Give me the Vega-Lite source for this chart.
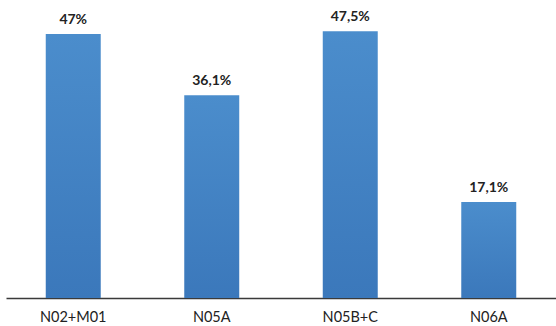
{
  "$schema": "https://vega.github.io/schema/vega-lite/v6.json",
  "width": 550,
  "height": 298,
  "autosize": {"type": "none"},
  "padding": {"left": 6, "top": 0, "right": 0, "bottom": 28},
  "background": "white",
  "config": {"view": {"stroke": null}},
  "data": {
    "values": [
      {"cat": "N02+M01", "value": 47.0, "label": "47%"},
      {"cat": "N05A", "value": 36.1, "label": "36,1%"},
      {"cat": "N05B+C", "value": 47.5, "label": "47,5%"},
      {"cat": "N06A", "value": 17.1, "label": "17,1%"}
    ]
  },
  "encoding": {
    "x": {
      "field": "cat",
      "type": "nominal",
      "sort": null,
      "scale": {"paddingInner": 0.603, "paddingOuter": 0.287},
      "axis": {
        "title": null,
        "labelAngle": 0,
        "ticks": false,
        "domainColor": "#3a3a3a",
        "domainWidth": 1.5,
        "labelFont": "Lato",
        "labelFontSize": 14.5,
        "labelColor": "#222222",
        "labelPadding": 12
      }
    },
    "y": {
      "field": "value",
      "type": "quantitative",
      "scale": {"domain": [0, 53.05], "nice": false},
      "axis": null
    }
  },
  "layer": [
    {
      "mark": {
        "type": "bar",
        "color": {
          "gradient": "linear",
          "x1": 0, "y1": 0, "x2": 0, "y2": 1,
          "stops": [
            {"offset": 0, "color": "#4b8dcc"},
            {"offset": 1, "color": "#3b78bb"}
          ]
        }
      }
    },
    {
      "mark": {
        "type": "text",
        "dy": -10,
        "baseline": "alphabetic",
        "font": "Lato",
        "fontSize": 14,
        "fontWeight": "bold",
        "color": "#222222"
      },
      "encoding": {"text": {"field": "label"}}
    }
  ]
}
